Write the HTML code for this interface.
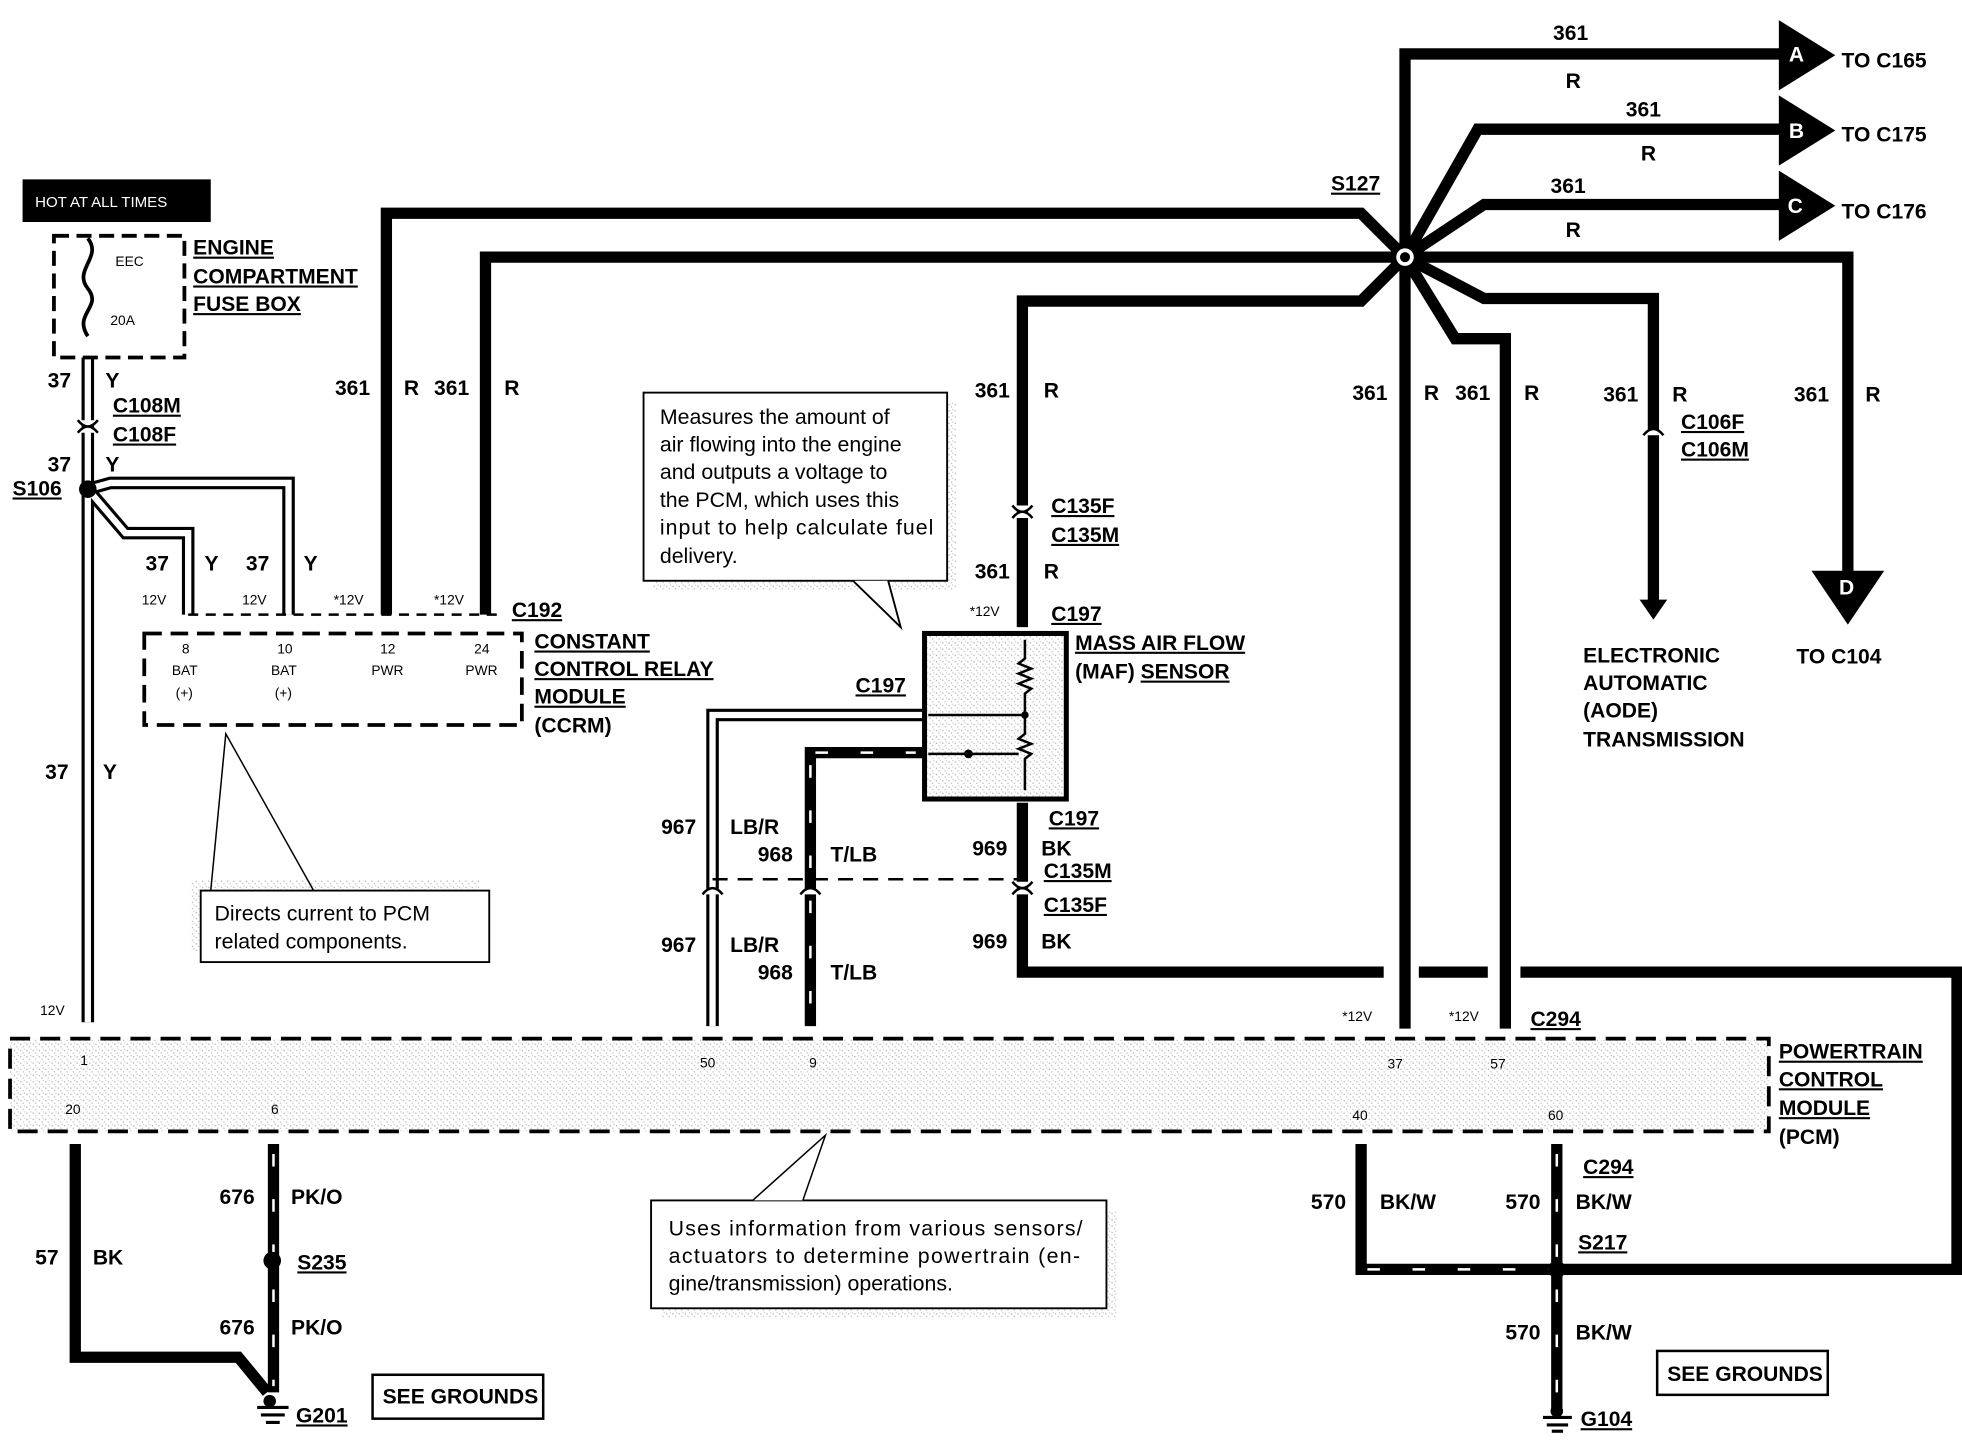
<!DOCTYPE html>
<html><head><meta charset="utf-8"><style>
html,body{margin:0;padding:0;background:#fff;}
svg{display:block}
text{font-family:"Liberation Sans",sans-serif;font-weight:bold;font-size:16.8px;fill:#000}
.u{text-decoration:underline}
.n{font-weight:normal;font-size:17px}
.s{font-size:11px;font-weight:normal}
</style></head><body>
<svg width="1962" height="1440" viewBox="0 0 1564 1148" preserveAspectRatio="none" xmlns="http://www.w3.org/2000/svg">
<defs>
<pattern id="sp" width="5" height="5" patternUnits="userSpaceOnUse">
<rect x="1" y="2" width="1" height="1" fill="#aaa"/><rect x="3" y="4" width="1" height="1" fill="#bbb"/><rect x="4" y="1" width="1" height="1" fill="#ccc"/></pattern>
</defs>
<g fill="none" stroke="#000" stroke-width="9" stroke-linejoin="miter">
<polyline points="308,490 308,170 1085,170 1120,205"/>
<polyline points="387,490 387,205 1120,205"/>
<polyline points="1120,205 1120,43 1425,43"/>
<polyline points="1120,205 1178,103 1425,103"/>
<polyline points="1120,205 1183,163 1425,163"/>
<polyline points="1120,205 1473,205 1473,460"/>
<polyline points="1120,205 1183,238 1318,238 1318,480"/>
<polyline points="1120,205 1085,240 815,240 815,500"/>
<polyline points="1120,205 1120,820"/>
<polyline points="1120,205 1160,270 1200,270 1200,820"/>
<polyline points="815,640 815,775 1103,775"/>
<polyline points="1131,775 1186,775"/>
<polyline points="1212,775 1560,775 1560,1012 1245,1012"/>
<polyline points="735,600 646,600 646,818"/>
<polyline points="60,912 60,1082 190,1082 213,1110"/>
<polyline points="218,912 218,1110"/>
<polyline points="1085,912 1085,1012 1240,1012"/>
<polyline points="1241,912 1241,1125"/>
</g>
<g stroke="#fff" stroke-width="2" fill="none" stroke-dasharray="10 26">
<line x1="646" y1="610" x2="646" y2="815"/>
<line x1="218" y1="920" x2="218" y2="1105"/>
<line x1="1241" y1="920" x2="1241" y2="1120"/>
<line x1="1090" y1="1012" x2="1235" y2="1012"/>
<line x1="650" y1="600" x2="730" y2="600"/>
</g>
<g fill="none" stroke="#000" stroke-width="10">
<polyline points="70,285 70,815"/>
<polyline points="70,390 100,425 150,425 150,490"/>
<polyline points="70,390 88,385 230,385 230,490"/>
<polyline points="735,570 568,570 568,818"/>
</g>
<g fill="none" stroke="#fff" stroke-width="5">
<polyline points="70,285 70,815"/>
<polyline points="70,390 100,425 150,425 150,490"/>
<polyline points="70,390 88,385 230,385 230,490"/>
<polyline points="735,570 568,570 568,818"/>
</g>
<g fill="#fff" stroke="#000" stroke-width="2">
<path d="M62,335 Q70,345 78,335" /><path d="M62,345 Q70,335 78,345"/>
<path d="M807,413 Q815,403 823,413"/><path d="M807,403 Q815,413 823,403"/>
<path d="M807,713 Q815,703 823,713"/><path d="M807,703 Q815,713 823,703"/>
<path d="M560,713 Q568,703 576,713"/><path d="M638,713 Q646,703 654,713"/>
<path d="M1310,347 Q1318,337 1326,347"/>
</g>
<line x1="568" y1="701" x2="815" y2="701" stroke="#000" stroke-width="2" stroke-dasharray="12 8"/>
<line x1="150" y1="490" x2="400" y2="490" stroke="#000" stroke-width="2" stroke-dasharray="8 6"/>
<polygon points="1418,16 1463,44 1418,72" fill="#000"/>
<polygon points="1418,76 1463,104 1418,132" fill="#000"/>
<polygon points="1418,136 1463,164 1418,192" fill="#000"/>
<polygon points="1444,455 1502,455 1473,498" fill="#000"/>
<polygon points="1307,478 1329,478 1318,494" fill="#000"/>
<text x="1426" y="49" style="fill:#fff">A</text>
<text x="1426" y="110" style="fill:#fff">B</text>
<text x="1425" y="170" style="fill:#fff">C</text>
<text x="1466" y="474" style="fill:#fff">D</text>
<circle cx="1120" cy="205" r="12" fill="#000"/><circle cx="1120" cy="205" r="7" fill="#fff"/><circle cx="1120" cy="205" r="4" fill="#000"/>
<circle cx="70" cy="390" r="7" fill="#000"/>
<circle cx="217" cy="1005" r="7" fill="#000"/>
<circle cx="1241" cy="1012" r="7" fill="#000"/>
<rect x="18" y="143" width="150" height="34" fill="#000"/>
<text x="28" y="165" style="fill:#fff;font-size:12px;font-weight:normal">HOT AT ALL TIMES</text>
<rect x="43" y="188" width="104" height="97" fill="none" stroke="#000" stroke-width="3" stroke-dasharray="12 6"/>
<path d="M70,190 C82,205 58,215 70,230 C82,245 58,250 70,268" fill="none" stroke="#000" stroke-width="3"/>
<text x="92" y="212" class="s">EEC</text><text x="88" y="259" class="s">20A</text>
<text x="154" y="203" class="u">ENGINE</text><text x="154" y="226" class="u">COMPARTMENT</text><text x="154" y="248" class="u">FUSE BOX</text>
<text x="38" y="309">37</text><text x="84" y="309">Y</text>
<text x="90" y="329" class="u">C108M</text><text x="90" y="352" class="u">C108F</text>
<text x="38" y="376">37</text><text x="84" y="376">Y</text>
<text x="10" y="395" class="u">S106</text>
<text x="116" y="455">37</text><text x="163" y="455">Y</text>
<text x="196" y="455">37</text><text x="242" y="455">Y</text>
<text x="36" y="621">37</text><text x="82" y="621">Y</text>
<rect x="115" y="505" width="301" height="73" fill="none" stroke="#000" stroke-width="3" stroke-dasharray="14 7"/>
<g><text x="113" y="482" class="s">12V</text><text x="193" y="482" class="s">12V</text><text x="266" y="482" class="s">*12V</text><text x="346" y="482" class="s">*12V</text>
<text x="145" y="521" class="s">8</text><text x="221" y="521" class="s">10</text><text x="303" y="521" class="s">12</text><text x="378" y="521" class="s">24</text>
<text x="137" y="538" class="s">BAT</text><text x="216" y="538" class="s">BAT</text><text x="296" y="538" class="s">PWR</text><text x="371" y="538" class="s">PWR</text>
<text x="140" y="556" class="s">(+)</text><text x="219" y="556" class="s">(+)</text></g>
<text x="408" y="492" class="u">C192</text>
<text x="426" y="517" class="u">CONSTANT</text><text x="426" y="539" class="u">CONTROL RELAY</text><text x="426" y="561" class="u">MODULE</text><text x="426" y="584">(CCRM)</text>
<text x="267" y="315">361</text><text x="322" y="315">R</text><text x="346" y="315">361</text><text x="402" y="315">R</text>
<text x="1061" y="152" class="u">S127</text>
<text x="1238" y="32">361</text><text x="1248" y="70">R</text><text x="1468" y="54">TO C165</text>
<text x="1296" y="93">361</text><text x="1308" y="128">R</text><text x="1468" y="113">TO C175</text>
<text x="1236" y="154">361</text><text x="1248" y="189">R</text><text x="1468" y="174">TO C176</text>
<text x="1430" y="320">361</text><text x="1487" y="320">R</text>
<text x="1432" y="529">TO  C104</text>
<text x="1278" y="320">361</text><text x="1333" y="320">R</text>
<text x="1340" y="342" class="u">C106F</text><text x="1340" y="364" class="u">C106M</text>
<text x="1262" y="528">ELECTRONIC</text><text x="1262" y="550">AUTOMATIC</text><text x="1262" y="572">(AODE)</text><text x="1262" y="595">TRANSMISSION</text>
<text x="1078" y="319">361</text><text x="1135" y="319">R</text><text x="1160" y="319">361</text><text x="1215" y="319">R</text>
<text x="777" y="317">361</text><text x="832" y="317">R</text>
<text x="838" y="409" class="u">C135F</text><text x="838" y="432" class="u">C135M</text>
<text x="777" y="461">361</text><text x="832" y="461">R</text>
<text x="773" y="491" class="s">*12V</text><text x="838" y="495" class="u">C197</text>
<rect x="737" y="505" width="113" height="132" fill="url(#sp)" stroke="#000" stroke-width="4"/>
<path d="M817,510 L817,525 l-5,4 l10,4 l-10,4 l10,4 l-10,4 l10,4 l-5,4 L817,570 L817,585 l-5,4 l10,4 l-10,4 l10,4 l-5,4 L817,630" fill="none" stroke="#000" stroke-width="2"/>
<line x1="740" y1="570" x2="817" y2="570" stroke="#000" stroke-width="2"/>
<line x1="740" y1="601" x2="812" y2="601" stroke="#000" stroke-width="2"/>
<circle cx="772" cy="601" r="3.5" fill="#000"/><circle cx="817" cy="570" r="3" fill="#000"/>
<text x="857" y="518" class="u">MASS AIR FLOW</text><text x="857" y="541">(MAF) <tspan class="u">SENSOR</tspan></text>
<text x="682" y="552" class="u">C197</text>
<text x="836" y="658" class="u">C197</text>
<text x="775" y="682">969</text><text x="830" y="682">BK</text>
<text x="832" y="700" class="u">C135M</text><text x="832" y="727" class="u">C135F</text>
<text x="775" y="756">969</text><text x="830" y="756">BK</text>
<text x="527" y="665">967</text><text x="582" y="665">LB/R</text><text x="604" y="687">968</text><text x="662" y="687">T/LB</text>
<text x="527" y="759">967</text><text x="582" y="759">LB/R</text><text x="604" y="781">968</text><text x="662" y="781">T/LB</text>
<rect x="520" y="320" width="242" height="150" fill="url(#sp)"/>
<rect x="513" y="313" width="242" height="150" fill="#fff" stroke="#000" stroke-width="1.5"/>
<polyline points="680,463 718,500 708,463" fill="#fff" stroke="#000" stroke-width="1.5"/>
<text x="526" y="338" class="n">Measures the amount of</text><text x="526" y="360" class="n">air flowing into the engine</text>
<text x="526" y="382" class="n">and outputs a voltage to</text><text x="526" y="404" class="n">the PCM, which uses this</text>
<text x="526" y="426" class="n" textLength="218">input to help calculate fuel</text><text x="526" y="449" class="n">delivery.</text>
<rect x="152" y="702" width="230" height="57" fill="url(#sp)"/>
<rect x="160" y="710" width="230" height="57" fill="#fff" stroke="#000" stroke-width="1.5"/>
<polyline points="168,710 180,585 250,710" fill="none" stroke="#000" stroke-width="1.2"/>
<text x="171" y="734" class="n">Directs current to PCM</text><text x="171" y="756" class="n">related components.</text>
<rect x="8" y="828" width="1402" height="74" fill="url(#sp)" stroke="#000" stroke-width="3" stroke-dasharray="16 8"/>
<text x="64" y="849" class="s">1</text><text x="558" y="851" class="s">50</text><text x="645" y="851" class="s">9</text>
<text x="1106" y="852" class="s">37</text><text x="1188" y="852" class="s">57</text>
<text x="52" y="888" class="s">20</text><text x="216" y="888" class="s">6</text><text x="1078" y="893" class="s">40</text><text x="1234" y="893" class="s">60</text>
<text x="32" y="809" class="s">12V</text><text x="1070" y="814" class="s">*12V</text><text x="1155" y="814" class="s">*12V</text>
<text x="1220" y="818" class="u">C294</text>
<text x="1418" y="844" class="u">POWERTRAIN</text><text x="1418" y="866" class="u">CONTROL</text><text x="1418" y="889" class="u">MODULE</text><text x="1418" y="912">(PCM)</text>
<rect x="527" y="965" width="363" height="86" fill="url(#sp)"/>
<rect x="519" y="957" width="363" height="86" fill="#fff" stroke="#000" stroke-width="1.5"/>
<polyline points="600,957 658,905 640,957" fill="#fff" stroke="#000" stroke-width="1.2"/>
<text x="533" y="985" class="n" textLength="330">Uses information from various sensors/</text>
<text x="533" y="1007" class="n" textLength="328">actuators to determine powertrain (en-</text>
<text x="533" y="1029" class="n">gine/transmission) operations.</text>
<text x="175" y="960">676</text><text x="232" y="960">PK/O</text><text x="237" y="1012" class="u">S235</text>
<text x="175" y="1064">676</text><text x="232" y="1064">PK/O</text>
<text x="28" y="1008">57</text><text x="74" y="1008">BK</text>
<g stroke="#000" stroke-width="2.5"><line x1="205" y1="1122" x2="230" y2="1122"/><line x1="208" y1="1128" x2="227" y2="1128"/><line x1="212" y1="1134" x2="223" y2="1134"/>
<line x1="1230" y1="1130" x2="1253" y2="1130"/><line x1="1233" y1="1136" x2="1250" y2="1136"/><line x1="1237" y1="1141" x2="1246" y2="1141"/></g>
<circle cx="215" cy="1117" r="5" fill="#000"/><circle cx="1241" cy="1125" r="5" fill="#000"/>
<text x="236" y="1134" class="u">G201</text>
<rect x="297" y="1096" width="136" height="35" fill="#fff" stroke="#000" stroke-width="2"/>
<text x="305" y="1119">SEE GROUNDS</text>
<text x="1045" y="964">570</text><text x="1100" y="964">BK/W</text><text x="1200" y="964">570</text><text x="1256" y="964">BK/W</text>
<text x="1262" y="936" class="u">C294</text><text x="1258" y="996" class="u">S217</text>
<text x="1200" y="1068">570</text><text x="1256" y="1068">BK/W</text>
<text x="1260" y="1137" class="u">G104</text>
<rect x="1321" y="1077" width="136" height="35" fill="#fff" stroke="#000" stroke-width="2"/>
<text x="1329" y="1101">SEE GROUNDS</text>
</svg>
</body></html>
